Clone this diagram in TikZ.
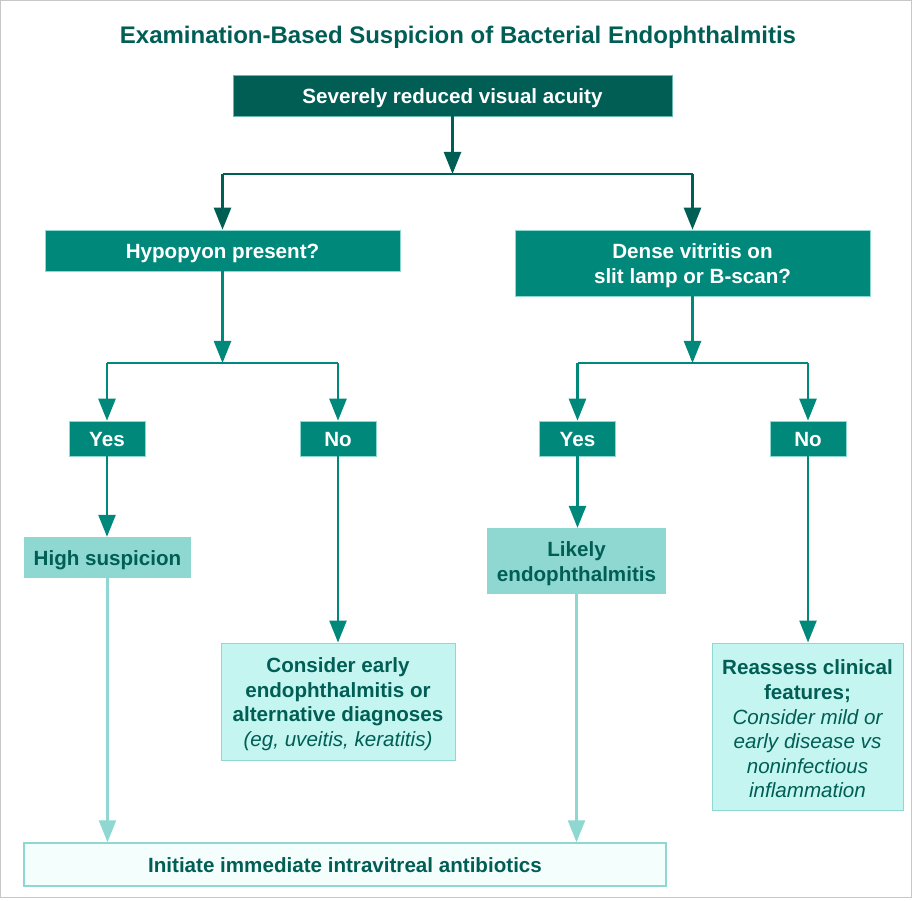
\documentclass[tikz,border=0pt]{standalone}
\usepackage{fontspec}
\setmainfont{Liberation Sans}
\usetikzlibrary{arrows.meta}
\definecolor{cdark}{HTML}{005E55}
\definecolor{cmid}{HTML}{00897B}
\definecolor{clight}{HTML}{8FD8D2}
\definecolor{cpale}{HTML}{C4F5F1}
\definecolor{cpalest}{HTML}{F4FFFD}
\definecolor{ctext}{HTML}{005E55}
\tikzset{
  box/.style={rectangle, inner sep=0pt, align=center, font=\bfseries\fontsize{20.6}{24.6}\selectfont,
    execute at begin node={\rule{0pt}{20.5pt}}, execute at end node={\rule[-4.5pt]{0pt}{0pt}}},
  mltext/.style={inner sep=0pt, align=center, font=\bfseries\fontsize{20.6}{24.6}\selectfont, yshift=-2.5pt},
  darkbox/.style={box, fill=cdark, draw=cmid!60, line width=0.6pt, text=white},
  midbox/.style={box, fill=cmid, draw=clight, line width=0.6pt, text=white},
  lightbox/.style={box, fill=clight, text=ctext},
  palebox/.style={box, fill=cpale, draw=clight, line width=1pt, text=ctext},
  palestbox/.style={box, fill=cpalest, draw=clight, line width=1.5pt, text=ctext},
  conn/.style={line width=2.5pt},
  arr/.style={conn, -{Triangle[width=17pt,length=22pt]}},
}
\begin{document}
\begin{tikzpicture}[x=1pt,y=-1pt]
\useasboundingbox (0,0) rectangle (916,901);
\fill[white] (0,0) rectangle (916,901);
\draw[black!22, line width=1pt] (0.5,0.5) rectangle (911.5,897.5);
\node[text=cdark, font=\bfseries\fontsize{24}{28}\selectfont] (title) at (458,37) {Examination-Based Suspicion of Bacterial Endophthalmitis};

\node[darkbox, minimum width=439pt, minimum height=41pt] (top) at (452.5,95.5) {Severely reduced visual acuity};

\node[midbox, minimum width=355pt, minimum height=41pt] (hyp) at (222.5,250.5) {Hypopyon present?};
\node[midbox, minimum width=355pt, minimum height=66pt] (dense) at (692.5,263) {};
\node[mltext, text=white] (denseT) at (dense.center) {Dense vitritis on\\slit lamp or B-scan?};

\node[midbox, minimum width=76pt, minimum height=35pt] (yesL) at (107,438.5) {Yes};
\node[midbox, minimum width=76pt, minimum height=35pt] (noL) at (338,438.5) {No};
\node[midbox, minimum width=76pt, minimum height=35pt] (yesR) at (577.5,438.5) {Yes};
\node[midbox, minimum width=76pt, minimum height=35pt] (noR) at (808,438.5) {No};

\node[lightbox, minimum width=167pt, minimum height=41pt] (high) at (107.5,557.5) {High suspicion};
\node[lightbox, minimum width=179pt, minimum height=66pt] (likely) at (576.5,561) {};
\node[mltext, text=ctext] (likelyT) at (likely.center) {Likely\\endophthalmitis};

\node[palebox, minimum width=234pt, minimum height=117pt] (consider) at (338,701.5) {};
\node[mltext, text=ctext] (considerT) at (consider.center) {Consider early\\endophthalmitis or\\alternative diagnoses\\{\mdseries\itshape (eg, uveitis, keratitis)}};
\node[palebox, minimum width=191pt, minimum height=167pt] (reassess) at (807.5,726.5) {};
\node[mltext, text=ctext] (reassessT) at (reassess.center) {Reassess clinical\\features;\\{\mdseries\itshape Consider mild or}\\{\mdseries\itshape early disease vs}\\{\mdseries\itshape noninfectious}\\{\mdseries\itshape inflammation}};

\node[palestbox, minimum width=642pt, minimum height=43pt] (final) at (345,864.5) {Initiate immediate intravitreal antibiotics};

% top branch
\coordinate (j1) at (452.5,174);
\draw[arr, cdark] (top.south) -- (j1);
\draw[conn, cdark] (hyp.north |- j1) -- (dense.north |- j1);
\draw[arr, cdark] (hyp.north |- j1) -- (hyp.north);
\draw[arr, cdark] (dense.north |- j1) -- (dense.north);

% left branch
\coordinate (j2) at (222.5,363);
\draw[arr, cmid] (hyp.south) -- (j2);
\draw[conn, cmid] (yesL.north |- j2) -- (noL.north |- j2);
\draw[arr, cmid] (yesL.north |- j2) -- (yesL.north);
\draw[arr, cmid] (noL.north |- j2) -- (noL.north);

% right branch
\coordinate (j3) at (692.5,363);
\draw[arr, cmid] (dense.south) -- (j3);
\draw[conn, cmid] (yesR.north |- j3) -- (noR.north |- j3);
\draw[arr, cmid] (yesR.north |- j3) -- (yesR.north);
\draw[arr, cmid] (noR.north |- j3) -- (noR.north);

% outcomes
\draw[arr, cmid] (yesL.south) -- (yesL.south |- high.north);
\draw[arr, cmid] (noL.south) -- (noL.south |- consider.north);
\draw[arr, cmid] (yesR.south) -- (yesR.south |- likely.north);
\draw[arr, cmid] (noR.south) -- (noR.south |- reassess.north);

\draw[arr, clight] (high.south) -- (high.south |- final.north);
\draw[arr, clight] (likely.south) -- (likely.south |- final.north);
\end{tikzpicture}
\end{document}
